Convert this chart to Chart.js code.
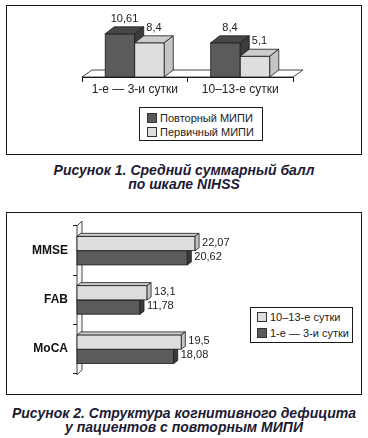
<!DOCTYPE html>
<html>
<head>
<meta charset="utf-8">
<script src="https://cdn.jsdelivr.net/npm/chart.js@4"></script>
<style>
  body { margin: 0; width: 368px; height: 438px; background: #fff; position: relative; overflow: hidden;
         font-family: "Liberation Sans", Arial, sans-serif; color: #222; }
  .box { position: absolute; border: 1px solid #1a1a1a; box-sizing: border-box; }
  canvas { position: absolute; left: 0; }
  .legend { position: absolute; border: 1px solid #1a1a1a; box-sizing: border-box; font-size: 11px; background: #fff; }
  .legend div { display: flex; align-items: center; white-space: nowrap; }
  .legend span.sw { display: inline-block; width: 8px; height: 8px; border: 1px solid #333; margin-right: 3px; }
  .caption { position: absolute; left: 0; width: 368px; text-align: center; font-weight: bold; font-style: italic;
             font-size: 14px; line-height: 14px; color: #1c1a33; }
</style>
</head>
<body>
<div class="box" style="left:6px;top:5px;width:356px;height:150px;"></div>
<div class="box" style="left:6px;top:212px;width:356px;height:183px;"></div>
<canvas id="chart1" width="368" height="100" style="top:0;"></canvas>
<canvas id="chart2" width="368" height="180" style="top:206px;"></canvas>
<div class="legend" id="legend1" style="left:139px;top:107px;width:124px;height:34px;padding:3px 0 0 7px;line-height:14px;"></div>
<div class="legend" id="legend2" style="left:250px;top:307px;width:103px;height:36px;padding:1px 0 0 6px;line-height:16px;"></div>
<div class="caption" style="top:163px;">Рисунок 1. Средний суммарный балл<br>по шкале NIHSS</div>
<div class="caption" style="top:406px;">Рисунок 2. Структура когнитивного дефицита<br>у пациентов с повторным МИПИ</div>
<script>
// Рисунок 1 - NIHSS
const categories1 = ['1-е — 3-и сутки', '10–13-е сутки'];
const seriesNames1 = ['Повторный МИПИ', 'Первичный МИПИ'];
const repeatMipi = [10.61, 8.4];
const primaryMipi = [8.4, 5.1];

// Рисунок 2 - когнитивный дефицит
const categories2 = ['MMSE', 'FAB', 'MoCA'];
const seriesNames2 = ['10–13-е сутки', '1-е — 3-и сутки'];
const days10to13 = [22.07, 13.1, 19.5];
const days1to3 = [20.62, 11.78, 18.08];

const DARK = { front: '#5b5b5b', top: '#474747', side: '#3c3c3c' };
const LIGHT = { front: '#dedede', top: '#cdcdcd', side: '#c4c4c4' };

const fmt = v => String(v).replace('.', ',');

const poly = (ctx, pts, fill) => {
  ctx.beginPath();
  ctx.moveTo(pts[0][0], pts[0][1]);
  pts.slice(1).forEach(p => ctx.lineTo(p[0], p[1]));
  ctx.closePath();
  ctx.fillStyle = fill;
  ctx.fill();
  ctx.stroke();
}

// draws bars as boxes + value labels, using the bar elements from chart.js
const bars3d = {
  id: 'bars3d',
  beforeDatasetsDraw(chart, args, opts) {
    const ctx = chart.ctx;
    const horizontal = chart.options.indexAxis === 'y';
    const { dx, dy } = opts;
    ctx.save();
    ctx.strokeStyle = '#1a1a1a';
    ctx.lineWidth = 0.8;
    if (opts.background) opts.background(chart, ctx);

    opts.order.forEach(di => {
      const meta = chart.getDatasetMeta(di);
      const faces = chart.data.datasets[di].faces;
      meta.data.forEach((bar, i) => {
        const p = bar.getProps(['x', 'y', 'base', 'width', 'height'], true);
        let l, r, t, b;
        if (horizontal) {
          t = p.y - p.height / 2; b = p.y + p.height / 2; l = p.base; r = p.x;
        } else {
          l = p.x - p.width / 2; r = p.x + p.width / 2; t = p.y; b = p.base;
        }
        ctx.fillStyle = faces.front;
        ctx.fillRect(l, t, r - l, b - t);
        ctx.strokeRect(l, t, r - l, b - t);
        poly(ctx, [[l, t], [l + dx, t + dy], [r + dx, t + dy], [r, t]], faces.top);
        poly(ctx, [[r, t], [r + dx, t + dy], [r + dx, b + dy], [r, b]], faces.side);
        bar._box = { l, r, t, b };
      });
    });

    // value labels
    ctx.fillStyle = '#222';
    ctx.font = '11px "Liberation Sans", Arial, sans-serif';
    ctx.textBaseline = 'middle';
    chart.data.datasets.forEach((ds, di) => {
      chart.getDatasetMeta(di).data.forEach((bar, i) => {
        const bx = bar._box;
        if (horizontal) {
          ctx.textAlign = 'left';
          ctx.fillText(fmt(ds.data[i]), bx.r + dx + 3, (bx.t + bx.b) / 2 - 1);
        } else {
          ctx.textAlign = 'center';
          ctx.fillText(fmt(ds.data[i]), (bx.l + bx.r) / 2 + dx / 2, bx.t + dy - 8);
        }
      });
    });
    ctx.restore();
    return false;
  }
};

const floor = (chart, ctx) => {
  const a = chart.chartArea;
  const y0 = chart.scales.y.getPixelForValue(0);
  poly(ctx, [[a.left, y0], [a.right, y0], [a.right + 10, y0 - 7], [a.left + 10, y0 - 7]], '#fff');
}

const wall = (chart, ctx) => {
  const a = chart.chartArea;
  const x0 = chart.scales.x.getPixelForValue(0);
  poly(ctx, [[x0, a.bottom + 1], [x0, a.top], [x0 + 5, a.top - 5], [x0 + 5, a.bottom - 4]], '#f6f6f6');
}

const tickFont = { family: '"Liberation Sans", Arial, sans-serif', size: 12 };

new Chart(document.getElementById('chart1'), {
  type: 'bar',
  data: {
    labels: categories1,
    datasets: [
      { label: seriesNames1[0], data: repeatMipi, backgroundColor: DARK.front, faces: DARK },
      { label: seriesNames1[1], data: primaryMipi, backgroundColor: LIGHT.front, faces: LIGHT }
    ]
  },
  options: {
    responsive: false,
    animation: false,
    layout: { padding: { left: 82, right: 75, top: 20, bottom: 0 } },
    categoryPercentage: 0.56,
    barPercentage: 1,
    scales: {
      x: {
        grid: { drawOnChartArea: false, tickLength: 5, color: '#1a1a1a' },
        border: { color: '#1a1a1a' },
        ticks: { color: '#222', font: tickFont, padding: 0 },
        afterFit: s => { s.height = 23; }
      },
      y: { display: false, min: 0, max: 14 }
    },
    plugins: {
      legend: { display: false },
      tooltip: { enabled: false },
      bars3d: { dx: 9, dy: -7, order: [0, 1], background: floor }
    }
  },
  plugins: [bars3d]
});

new Chart(document.getElementById('chart2'), {
  type: 'bar',
  data: {
    labels: categories2,
    datasets: [
      { label: seriesNames2[0], data: days10to13, backgroundColor: LIGHT.front, faces: LIGHT },
      { label: seriesNames2[1], data: days1to3, backgroundColor: DARK.front, faces: DARK }
    ]
  },
  options: {
    indexAxis: 'y',
    responsive: false,
    animation: false,
    layout: { padding: { left: 0, right: 157.25, top: 20, bottom: 9 } },
    categoryPercentage: 0.58,
    barPercentage: 1,
    scales: {
      x: { display: false, min: 0, max: 25 },
      y: {
        grid: { drawOnChartArea: false, tickLength: 4, color: '#1a1a1a' },
        border: { color: '#1a1a1a' },
        ticks: { color: '#111', font: { ...tickFont, weight: 'bold', size: 12 }, padding: 5 },
        afterFit: s => { s.width = 77; }
      }
    },
    plugins: {
      legend: { display: false },
      tooltip: { enabled: false },
      bars3d: { dx: 4, dy: -3, order: [1, 0], background: wall }
    }
  },
  plugins: [bars3d]
});

// html legends
const buildLegend = (id, names, colors) => {
  document.getElementById(id).innerHTML = names.map((n, i) =>
    `<div><span class="sw" style="background:${colors[i]}"></span>${n}</div>`).join('');
}
buildLegend('legend1', seriesNames1, [DARK.front, LIGHT.front]);
buildLegend('legend2', seriesNames2, [LIGHT.front, DARK.front]);
</script>
</body>
</html>
